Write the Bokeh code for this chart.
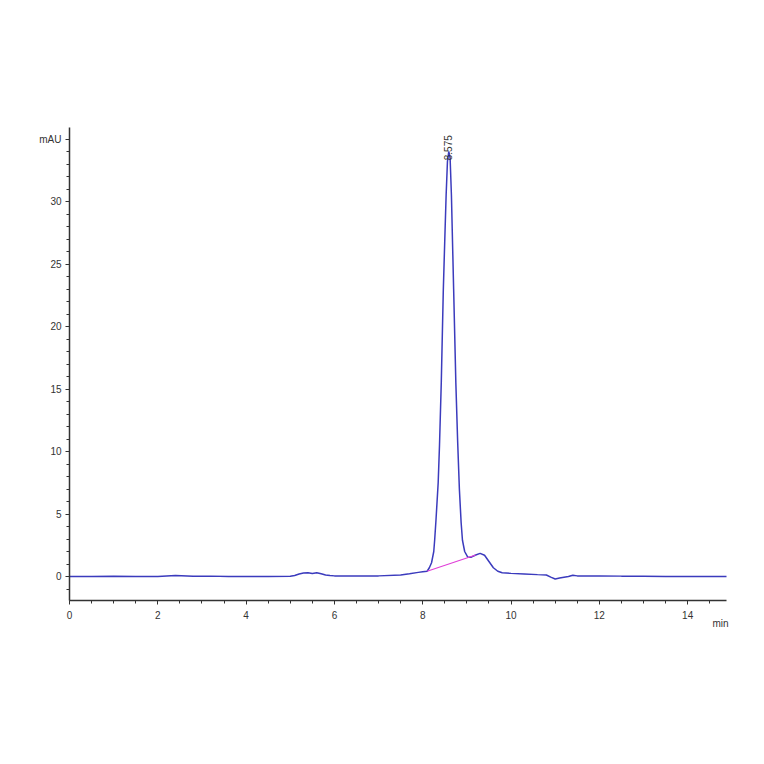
import numpy as np
from bokeh.plotting import figure
from bokeh.models import FixedTicker, Range1d, Title
from bokeh.core.properties import value
from bokeh.embed import file_html
from bokeh.resources import INLINE

# retention time (min) and signal (mAU)
time_min = [0.0, 0.5, 1.0, 1.5, 2.0, 2.4, 2.8, 3.2, 3.6, 4.0, 4.5, 5.0, 5.1, 5.2, 5.3,
            5.4, 5.5, 5.6, 5.7, 5.8, 5.9, 6.0, 6.5, 7.0, 7.5, 7.7, 7.9, 8.0, 8.1, 8.15,
            8.2, 8.25, 8.27, 8.3, 8.35, 8.38, 8.42, 8.466, 8.5, 8.53, 8.56, 8.59, 8.62, 8.65,
            8.7, 8.75, 8.79, 8.83, 8.87, 8.9, 8.95, 9.02, 9.1, 9.2, 9.3, 9.4, 9.5, 9.6, 9.7, 9.8,
            10.0, 10.3, 10.6, 10.8, 10.9, 11.0, 11.1, 11.3, 11.4, 11.5, 12.0, 12.5, 13.0,
            13.5, 14.0, 14.5, 14.9]
signal_mau = [0.0, 0.0, 0.02, 0.0, 0.0, 0.08, 0.02, 0.03, 0.0, 0.0, 0.0, 0.02, 0.08, 0.2, 0.28,
              0.3, 0.24, 0.3, 0.22, 0.12, 0.08, 0.05, 0.04, 0.05, 0.12, 0.22, 0.33, 0.38, 0.42, 0.7,
              1.1, 2.0, 2.9, 4.5, 7.5, 10.5, 15.5, 22.9, 27.0, 30.5, 33.2, 34.0, 33.5, 30.5,
              23.0, 15.5, 10.9, 7.0, 4.3, 2.9, 2.0, 1.55, 1.55, 1.72, 1.85, 1.7, 1.2, 0.7, 0.42, 0.3,
              0.25, 0.2, 0.15, 0.12, -0.05, -0.2, -0.12, 0.0, 0.1, 0.05, 0.05, 0.03, 0.02,
              0.0, 0.0, 0.0, 0.0]

baseline_t = [8.1, 9.2]
baseline_y = [0.42, 1.72]

peak_rt = 8.575
peak_label = "8.575"

y_major = [0, 5, 10, 15, 20, 25, 30, 35]
x_major = [0, 2, 4, 6, 8, 10, 12, 14]

p = figure(width=756, height=756, output_backend="svg", toolbar_location=None,
           x_range=Range1d(0, 14.88), y_range=Range1d(-1.92, 35.92),
           min_border_left=69, min_border_right=30, min_border_top=127, min_border_bottom=156)
p.outline_line_color = None
p.xgrid.visible = False
p.ygrid.visible = False

p.line(time_min, signal_mau, line_color="#3b3bbd", line_width=1.5)
p.line(baseline_t, baseline_y, line_color="#e040d8", line_width=1.2)

p.text(x=[peak_rt], y=[33.3], text=[peak_label], angle=np.pi / 2,
       text_align="left", text_baseline="middle", text_font=value("Liberation Sans"),
       text_font_size="10px", text_color="#333333")

for ax in (p.xaxis[0], p.yaxis[0]):
    ax.axis_line_color = "#333333"
    ax.axis_line_width = 1.5
    ax.major_tick_line_color = "#333333"
    ax.minor_tick_line_color = "#333333"
    ax.major_tick_in = 0
    ax.major_tick_out = 4
    ax.minor_tick_in = 0
    ax.minor_tick_out = 3
    ax.major_label_text_font = "Liberation Sans"
    ax.major_label_text_font_size = "10px"
    ax.major_label_text_color = "#333333"
    ax.major_label_standoff = 4

p.xaxis[0].major_label_standoff = 6
p.yaxis[0].ticker = FixedTicker(ticks=y_major, minor_ticks=list(range(-1, 36)))
p.yaxis[0].major_label_overrides = {35: "mAU"}
p.xaxis[0].ticker = FixedTicker(ticks=x_major, minor_ticks=[i * 0.5 for i in range(30)])

unit_title = Title(text="min", align="right", text_font="Liberation Sans",
                   text_font_size="10px", text_font_style="normal", text_color="#333333",
                   standoff=-12, offset=-2)
p.add_layout(unit_title, "below")

open("out.html", "w").write(file_html(p, INLINE))
